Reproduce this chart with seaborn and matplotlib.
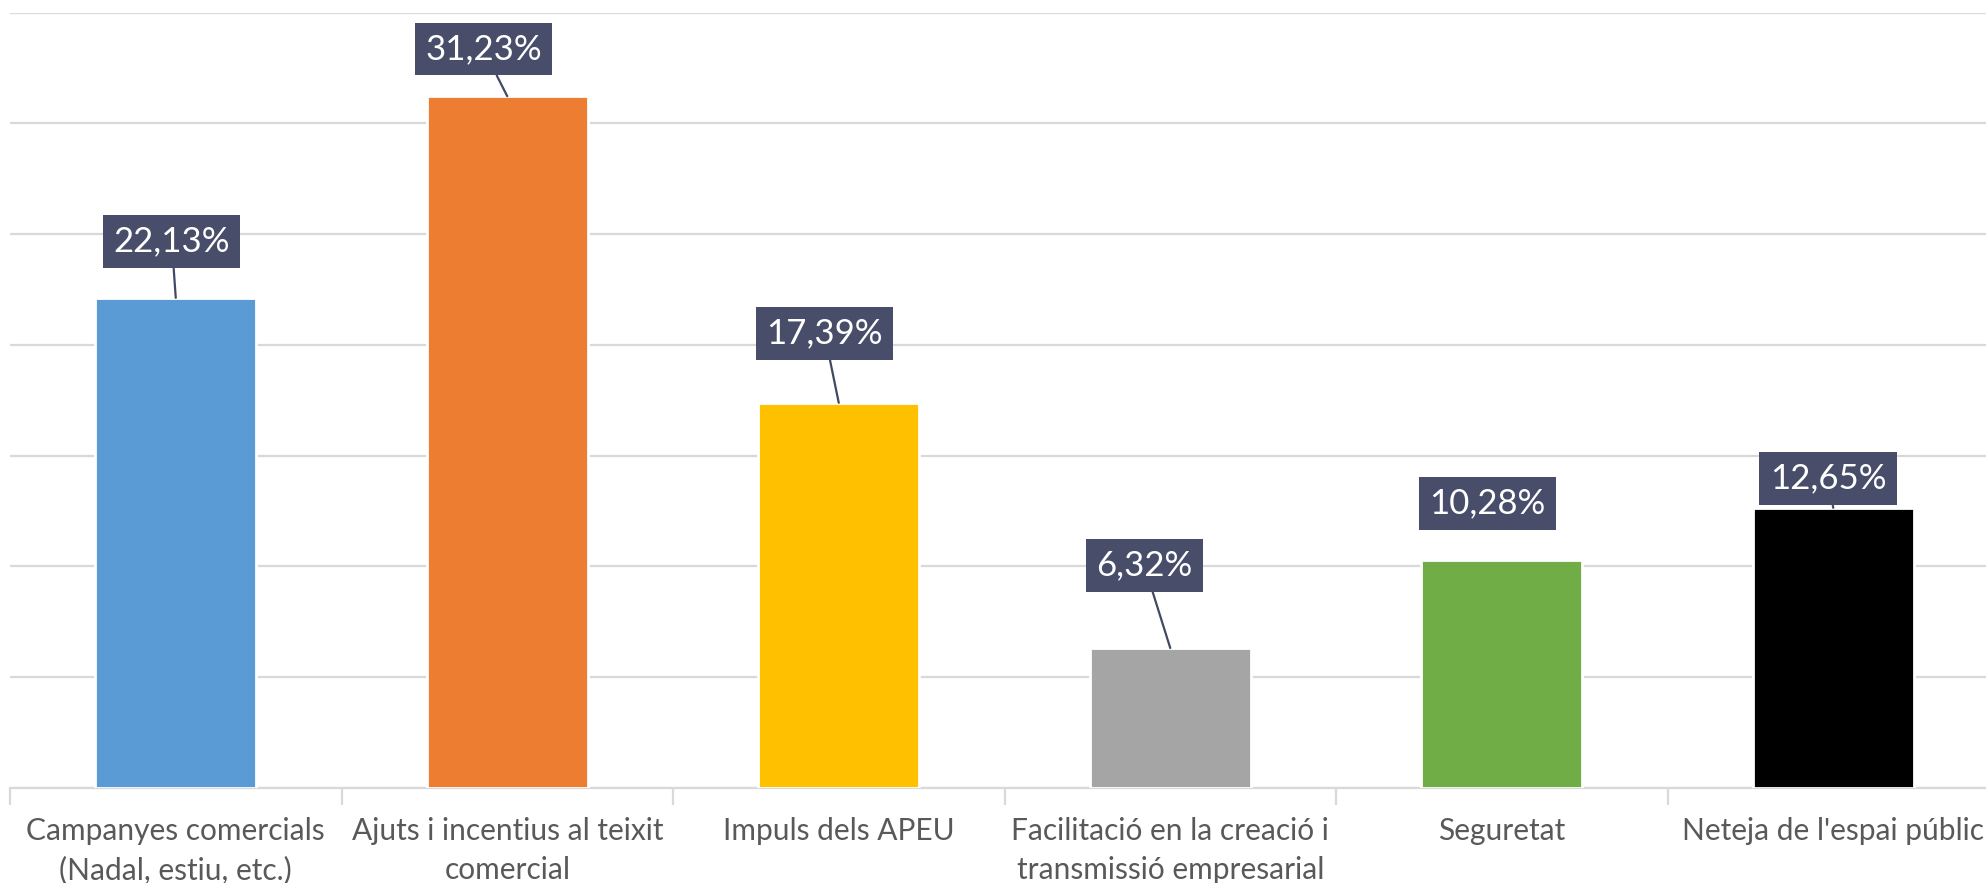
import matplotlib
matplotlib.use("Agg")
import matplotlib.pyplot as plt
import seaborn as sns
import pandas as pd
import numpy as np

categories = [
    "Campanyes comercials\n(Nadal, estiu, etc.)",
    "Ajuts i incentius al teixit\ncomercial",
    "Impuls dels APEU",
    "Facilitació en la creació i\ntransmissió empresarial",
    "Seguretat",
    "Neteja de l'espai públic",
]
values = [22.13, 31.23, 17.39, 6.32, 10.28, 12.65]
value_labels = ["22,13%", "31,23%", "17,39%", "6,32%", "10,28%", "12,65%"]
colors = ["#5B9BD5", "#ED7D31", "#FFC000", "#A5A5A5", "#70AD47", "#000000"]

# label box placement (layout only)
label_dx = [-0.012, -0.072, -0.043, -0.078, -0.043, -0.016]
label_dy = [2.55, 2.13, 3.14, 3.72, 2.56, 1.34]
draw_leader = [True, True, True, True, False, True]

sns.set_theme(style="white")
plt.rcParams["font.family"] = ["Lato", "DejaVu Sans"]

fig = plt.figure(figsize=(19.86, 8.83), dpi=100)
ax = fig.add_axes([10 / 1986, 1 - 788 / 883, 1989 / 1986, (788 - 12.7) / 883])

df = pd.DataFrame({"cat": categories, "val": values})
sns.barplot(data=df, x="cat", y="val", hue="cat", palette=colors, legend=False,
            width=0.486, ax=ax, edgecolor="white", linewidth=2, saturation=1, zorder=3)

ax.set_ylim(0, 35)
ax.set_xlim(-0.5, len(categories) - 0.5)
ax.set_yticks(np.arange(0, 36, 5))
ax.yaxis.grid(True, color="#D9D9D9", linewidth=1.6, zorder=0)
ax.set_axisbelow(True)
ax.tick_params(axis="y", left=False, labelleft=False)
for s in ["left", "right", "top"]:
    ax.spines[s].set_visible(False)
ax.spines["bottom"].set_color("#D9D9D9")
ax.spines["bottom"].set_linewidth(1.6)
ax.set_xlabel("")
ax.set_ylabel("")

ax.set_xticks(range(len(categories)))
ax.set_xticklabels(categories, fontsize=21.5, color="#595959", linespacing=1.45)
ax.tick_params(axis="x", which="major", length=0, pad=21)
ax.set_xticks(np.arange(-0.5, len(categories), 1), minor=True)
ax.tick_params(axis="x", which="minor", length=12, width=1.6, color="#D9D9D9", bottom=True)

for i, (v, lab) in enumerate(zip(values, value_labels)):
    arrow = dict(arrowstyle="-", color="#404A63", lw=1.6, shrinkA=0, shrinkB=0) if draw_leader[i] else None
    ax.annotate(lab, xy=(i, v), xytext=(i + label_dx[i], v + label_dy[i]),
                textcoords="data", ha="center", va="center", fontsize=25, color="white",
                bbox=dict(boxstyle="square,pad=0.3", fc="#484E69", ec="none"),
                arrowprops=arrow, zorder=5, annotation_clip=False)

fig.savefig("out.png", dpi=100)
